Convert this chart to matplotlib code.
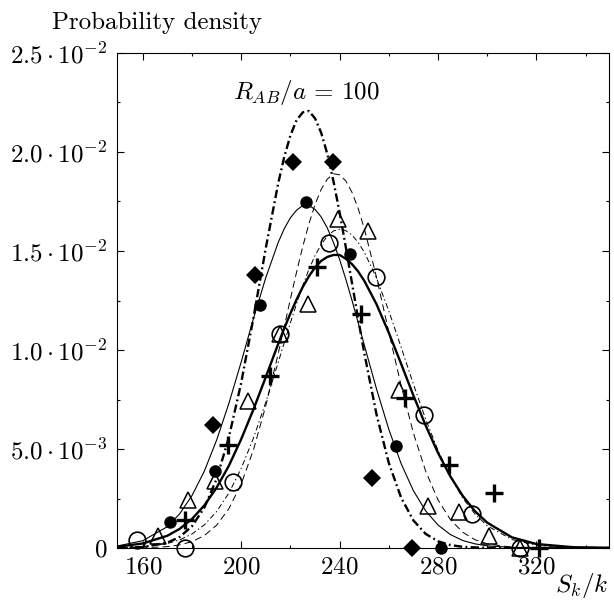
import matplotlib
matplotlib.use("Agg")
from matplotlib import pyplot as plt
from matplotlib.ticker import MultipleLocator

plt.rcParams["font.family"] = "serif"
plt.rcParams["font.serif"] = ["cmr10", "DejaVu Serif"]
plt.rcParams["mathtext.fontset"] = "cm"
plt.rcParams["axes.unicode_minus"] = False
plt.rcParams["lines.scale_dashes"] = False

# fitted curves
grid_x = [150, 160, 170, 175, 180, 185, 190, 195, 200, 205, 210, 215, 217.5, 220,
          222.5, 225, 227.5, 230, 232.5, 235, 237.5, 240, 242.5, 245, 247.5, 250, 255,
          260, 265, 270, 275, 280, 285, 290, 295, 300, 310, 320, 335, 350]
thick_dashdot = [0.00001, 0.00005, 0.00027, 0.00056, 0.0011, 0.00204, 0.00349, 0.0056,
                 0.00835, 0.01165, 0.01516, 0.0184, 0.01976, 0.02084, 0.02161, 0.0220,
                 0.02207, 0.0217, 0.02097, 0.0199, 0.01852, 0.01694, 0.0152, 0.0134,
                 0.0116, 0.00986, 0.00674, 0.00429, 0.00254, 0.00139, 0.00071, 0.00034,
                 0.00015, 0.00006, 0.00003, 0.00001, 0, 0, 0, 0]
thin_solid = [0.00011, 0.00037, 0.00108, 0.00173, 0.00265, 0.00388, 0.00545, 0.00731,
              0.0094, 0.0116, 0.01366, 0.01542, 0.01613, 0.01668, 0.01706, 0.0173,
              0.0173, 0.0171, 0.01672, 0.01616, 0.01543, 0.01457, 0.01358, 0.01252,
              0.0114, 0.01026, 0.00803, 0.00599, 0.00426, 0.00289, 0.00187, 0.00116,
              0.00068, 0.00038, 0.00021, 0.00011, 0.00003, 0.00001, 0, 0]
thin_dashed = [0.0, 0.00001, 0.00007, 0.00016, 0.00032, 0.00063, 0.00115, 0.00199,
               0.00324, 0.00497, 0.00719, 0.0098, 0.01118, 0.01258, 0.01394, 0.01522,
               0.01636, 0.01735, 0.01811, 0.01863, 0.0189, 0.01885, 0.01854, 0.01797,
               0.01716, 0.01615, 0.01367, 0.0109, 0.0082, 0.0058, 0.00387, 0.00243,
               0.00144, 0.0008, 0.00042, 0.00021, 0.00004, 0.00001, 0, 0]
thin_dashdot = [0.00001, 0.00006, 0.00023, 0.00041, 0.00071, 0.00117, 0.00184, 0.00278,
                0.00402, 0.00556, 0.00737, 0.00936, 0.01037, 0.01138, 0.01234, 0.01325,
                0.01406, 0.01477, 0.01533, 0.01575, 0.01601, 0.0161, 0.01603, 0.01581,
                0.01544, 0.01495, 0.01363, 0.01197, 0.01014, 0.00827, 0.0065, 0.00493,
                0.0036, 0.00253, 0.00172, 0.00112, 0.00043, 0.00014, 0.00002, 0]
thick_solid = [0.00007, 0.00023, 0.00062, 0.00097, 0.00147, 0.00215, 0.00305, 0.00416,
               0.0055, 0.00701, 0.00864, 0.0103, 0.0111, 0.01185, 0.01255, 0.01318,
               0.01372, 0.01417, 0.0145, 0.0147, 0.0148, 0.0148, 0.01461, 0.01434,
               0.01397, 0.0135, 0.01231, 0.01087, 0.0093, 0.0077, 0.00618, 0.0048,
               0.00362, 0.00264, 0.00186, 0.00128, 0.00054, 0.0002, 0.00004, 0.00001]

# sampled points
diamond_x = [188.7, 205.4, 221.2, 237.5, 253.1, 269.4]
diamond_y = [0.0062, 0.0138, 0.0195, 0.0195, 0.00355, 0.0]
dot_x = [171.1, 189.4, 207.7, 226.3, 244.3, 263.0, 281.2]
dot_y = [0.0013, 0.0039, 0.01227, 0.01746, 0.01485, 0.00515, 0.0]
tri_x = [166.3, 178.5, 189.5, 202.9, 215.8, 227.3, 239.5, 251.7, 264.0, 276.1, 288.4,
         300.6, 313.5]
tri_y = [0.0006, 0.0024, 0.0034, 0.0074, 0.0108, 0.0123, 0.0166, 0.0160, 0.0080, 0.0021,
         0.0018, 0.0006, 0.0]
ring_x = [157.5, 177.2, 196.6, 215.8, 235.5, 254.9, 274.4, 293.8, 313.2]
ring_y = [0.0004, 0.0, 0.00335, 0.0108, 0.0154, 0.0137, 0.0067, 0.0017, 0.0]
plus_x = [177.2, 194.5, 211.7, 230.7, 248.6, 266.7, 284.3, 302.9, 320.9]
plus_y = [0.0014, 0.0052, 0.0087, 0.0142, 0.0118, 0.0076, 0.0042, 0.0028, 0.0]

ytick_vals = [0, 0.005, 0.01, 0.015, 0.02, 0.025]
ytick_labels = [r"$0$", r"$5.0\cdot10^{-3}$", r"$1.0\cdot10^{-2}$",
                r"$1.5\cdot10^{-2}$", r"$2.0\cdot10^{-2}$", r"$2.5\cdot10^{-2}$"]
xtick_vals = [160, 200, 240, 280, 320]
xtick_labels = [r"$160$", r"$200$", r"$240$", r"$280$", r"$320$"]

fig = plt.figure(figsize=(6.14, 6.01), dpi=100)
ax = fig.add_axes([117 / 614, 53 / 601, 492 / 614, 495 / 601])

ax.plot(grid_x, thick_dashdot, color="k", lw=1.7, dashes=(6, 2.4, 1.3, 2.4))
ax.plot(grid_x, thin_solid, color="k", lw=0.8)
ax.plot(grid_x, thin_dashed, color="k", lw=0.7, dashes=(5, 3))
ax.plot(grid_x, thin_dashdot, color="k", lw=0.7, dashes=(4, 2, 1, 2))
ax.plot(grid_x, thick_solid, color="k", lw=1.7)

mk = dict(ls="none", color="k", clip_on=False, zorder=5)
ax.plot(diamond_x, diamond_y, marker="D", ms=9, mew=0, **mk)
ax.plot(dot_x, dot_y, marker="o", ms=9, mew=0, **mk)
ax.plot(tri_x, tri_y, marker="^", ms=12, mew=1.1, mfc="none", **mk)
ax.plot(ring_x, ring_y, marker="o", ms=12, mew=1.2, mfc="none", **mk)
ax.plot(plus_x, plus_y, marker="+", ms=13, mew=2.4, **mk)

ax.set_xlim(149.5, 349.5)
ax.set_ylim(0, 0.025)
ax.set_xticks(xtick_vals, xtick_labels)
ax.set_yticks(ytick_vals, ytick_labels)
ax.xaxis.set_minor_locator(MultipleLocator(20))
ax.yaxis.set_minor_locator(MultipleLocator(0.0025))
ax.tick_params(which="both", direction="in", top=True, right=True,
               labelsize=18, width=0.8)
ax.tick_params(which="major", length=5)
ax.tick_params(which="minor", length=2.5)
ax.tick_params(axis="y", pad=7)
ax.tick_params(axis="x", pad=6)
for s in ax.spines.values():
    s.set_linewidth(0.8)

ax.text(226.4, 0.0230, r"$R_{AB}/a\,=\,100$", fontsize=18, ha="center", va="center")
fig.text(52 / 614, 1 - 23 / 601, "Probability density", fontsize=18,
         ha="left", va="center")
fig.text(0.99, 1 - 586 / 601, r"$S_k/k$", fontsize=18, ha="right", va="center")

fig.savefig("out.png", dpi=100)
